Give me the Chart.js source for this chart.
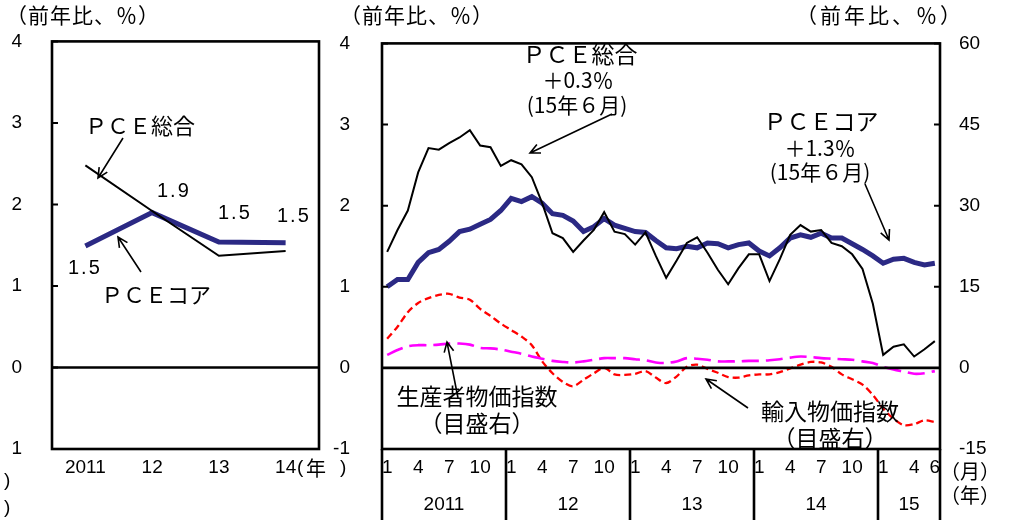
<!DOCTYPE html>
<html>
<head>
<meta charset="utf-8">
<script src="https://cdn.jsdelivr.net/npm/chart.js@4.4.0/dist/chart.umd.min.js"></script>
<style>
html, body { margin: 0; padding: 0; background: #fff; }
#wrap { position: relative; width: 1016px; height: 520px; }
#wrap canvas { position: absolute; left: 0; top: 0; }
</style>
</head>
<body>
<div id="wrap">
  <canvas id="annualChart" width="1016" height="520"></canvas>
  <canvas id="monthlyChart" width="1016" height="520"></canvas>
</div>
<script>
// annual panel (left)
const annualYears = ['2011', '12', '13', '14'];
const pceTotalAnnual = [2.48, 1.92, 1.37, 1.43];
const pceCoreAnnual = [1.49, 1.90, 1.54, 1.53];

// monthly panel (right), Jan 2011 - Jun 2015
const monthYears = ['2011', '12', '13', '14', '15'];
const monthsInYear = [12, 12, 12, 12, 6];
const shownMonths = [[1, 4, 7, 10], [1, 4, 7, 10], [1, 4, 7, 10], [1, 4, 7, 10], [1, 4, 6]];

const pceTotal = [
  1.43, 1.70, 1.94, 2.41, 2.71, 2.69, 2.77, 2.84, 2.93, 2.74, 2.72, 2.49,
  2.56, 2.51, 2.35, 2.03, 1.66, 1.60, 1.43, 1.57, 1.70, 1.92, 1.68, 1.65,
  1.52, 1.67, 1.38, 1.11, 1.32, 1.54, 1.61, 1.42, 1.21, 1.03, 1.23, 1.40,
  1.40, 1.07, 1.34, 1.64, 1.76, 1.68, 1.70, 1.54, 1.50, 1.40, 1.22, 0.79,
  0.16, 0.26, 0.29, 0.14, 0.23, 0.33
];
const pceCore = [
  1.00, 1.09, 1.09, 1.30, 1.42, 1.46, 1.56, 1.68, 1.71, 1.77, 1.83, 1.94,
  2.09, 2.05, 2.11, 2.03, 1.90, 1.88, 1.81, 1.68, 1.74, 1.84, 1.76, 1.72,
  1.68, 1.67, 1.57, 1.48, 1.47, 1.50, 1.48, 1.54, 1.53, 1.48, 1.52, 1.54,
  1.44, 1.38, 1.48, 1.60, 1.64, 1.61, 1.66, 1.60, 1.60, 1.53, 1.46, 1.38,
  1.29, 1.34, 1.35, 1.30, 1.27, 1.29
];
// right axis
const importPrice = [
  5.4, 7.6, 10.3, 12.0, 12.9, 13.5, 13.7, 13.0, 12.6, 10.9, 9.6, 8.2,
  7.0, 5.8, 4.2, 1.2, -1.0, -2.6, -3.4, -2.2, -1.0, 0.0, -1.2, -1.3,
  -1.1, -0.6, -1.8, -2.8, -1.6, 0.2, 0.6, -0.2, -0.9, -1.7, -1.8, -1.4,
  -1.2, -1.2, -0.8, -0.1, 0.6, 1.1, 1.0, 0.2, -1.2, -2.1, -3.1, -5.0,
  -7.5, -9.4, -10.6, -10.4, -9.7, -10.0
];
const producerPrice = [
  2.4, 3.3, 4.0, 4.2, 4.2, 4.3, 4.5, 4.5, 4.3, 3.7, 3.6, 3.4,
  3.0, 2.6, 2.1, 1.7, 1.3, 1.1, 1.0, 1.2, 1.5, 1.8, 1.8, 1.8,
  1.6, 1.4, 1.0, 0.9, 1.2, 1.8, 1.7, 1.5, 1.2, 1.2, 1.2, 1.3,
  1.3, 1.4, 1.6, 1.9, 2.1, 2.0, 1.8, 1.7, 1.6, 1.5, 1.2, 0.9,
  0.2, -0.3, -0.7, -1.1, -1.0, -0.6
];

const NUM = '"Liberation Sans", Arial, "Noto Sans CJK JP", sans-serif';
const JP = '"Noto Sans CJK JP", "Liberation Sans", sans-serif';
const NAVY = '#2b2984';

// build month categories + tick texts
const monthCats = [];
const monthTickText = [];
const yearStart = [];
monthYears.forEach((y, yi) => {
  yearStart.push(monthCats.length);
  for (let m = 1; m <= monthsInYear[yi]; m++) {
    monthCats.push(y + '/' + m);
    monthTickText.push(shownMonths[yi].includes(m) ? String(m) : '');
  }
});

function arrow(ctx, x1, y1, x2, y2) {
  const a = Math.atan2(y2 - y1, x2 - x1);
  const h = 11;
  ctx.save();
  ctx.strokeStyle = '#000';
  ctx.lineWidth = 1.6;
  ctx.beginPath();
  ctx.moveTo(x1, y1);
  ctx.lineTo(x2, y2);
  ctx.moveTo(x2 - h * Math.cos(a - 0.45), y2 - h * Math.sin(a - 0.45));
  ctx.lineTo(x2, y2);
  ctx.lineTo(x2 - h * Math.cos(a + 0.45), y2 - h * Math.sin(a + 0.45));
  ctx.stroke();
  ctx.restore();
}

function text(ctx, str, x, y, font, align, spacing) {
  ctx.save();
  ctx.fillStyle = '#000';
  ctx.font = font;
  ctx.textAlign = align || 'center';
  ctx.textBaseline = 'middle';
  if (spacing) ctx.letterSpacing = spacing;
  ctx.fillText(str, x, y);
  ctx.restore();
}

function frame(ctx, area, yScale) {
  ctx.save();
  ctx.strokeStyle = '#000';
  ctx.lineWidth = 2.6;
  ctx.strokeRect(area.left, area.top, area.right - area.left, area.bottom - area.top);
  // zero line
  const y0 = yScale.getPixelForValue(0);
  ctx.beginPath();
  ctx.moveTo(area.left, y0);
  ctx.lineTo(area.right, y0);
  ctx.stroke();
  ctx.restore();
}

function innerTicks(ctx, scale, x, dir) {
  ctx.save();
  ctx.strokeStyle = '#000';
  ctx.lineWidth = 2;
  ctx.beginPath();
  scale.ticks.forEach(t => {
    const y = scale.getPixelForValue(t.value);
    ctx.moveTo(x, y);
    ctx.lineTo(x + dir * 6, y);
  });
  ctx.stroke();
  ctx.restore();
}

const annualDecor = {
  id: 'annualDecor',
  afterDatasetsDraw(chart) {
    const ctx = chart.ctx;
    const area = chart.chartArea;
    frame(ctx, area, chart.scales.y);
    innerTicks(ctx, chart.scales.y, area.left, 1);

    text(ctx, '（前年比、％）', 6, 15, '21px ' + JP, 'left', '1px');
    text(ctx, '(', 297, 468, '19px ' + NUM, 'left');
    text(ctx, '年', 316, 468, '20px ' + JP, 'center');
    text(ctx, ')', 340, 468, '19px ' + NUM, 'left');
    text(ctx, ')', 4, 481, '19px ' + NUM, 'left');
    text(ctx, ')', 4, 508, '19px ' + NUM, 'left');

    text(ctx, 'ＰＣＥ総合', 140, 126, '22px ' + JP);
    arrow(ctx, 123, 138, 98, 178);
    text(ctx, '1.9', 157, 191, '20px ' + NUM, 'left', '2px');
    text(ctx, '1.5', 218, 213, '20px ' + NUM, 'left', '2px');
    text(ctx, '1.5', 277, 216, '20px ' + NUM, 'left', '2px');
    text(ctx, '1.5', 68, 268, '20px ' + NUM, 'left', '2px');
    text(ctx, 'ＰＣＥコア', 156, 295, '22px ' + JP);
    arrow(ctx, 141, 272, 118, 237);
  }
};

const monthlyDecor = {
  id: 'monthlyDecor',
  afterDatasetsDraw(chart) {
    const ctx = chart.ctx;
    const area = chart.chartArea;
    const x = chart.scales.x;
    frame(ctx, area, chart.scales.y);
    innerTicks(ctx, chart.scales.y, area.left, 1);
    innerTicks(ctx, chart.scales.y2, area.right, -1);

    // year separators and year labels below the plot
    ctx.save();
    ctx.strokeStyle = '#000';
    ctx.lineWidth = 2.6;
    ctx.beginPath();
    yearStart.concat([monthCats.length]).forEach(i => {
      const px = x.getPixelForValue(i - 0.5);
      ctx.moveTo(px, area.bottom);
      ctx.lineTo(px, 520);
    });
    ctx.stroke();
    ctx.restore();
    monthYears.forEach((y, yi) => {
      const a = x.getPixelForValue(yearStart[yi] - 0.5);
      const b = x.getPixelForValue(yearStart[yi] + monthsInYear[yi] - 0.5);
      text(ctx, y, (a + b) / 2, 505, '19px ' + NUM);
    });
    text(ctx, '（月）', 940, 471, '20px ' + JP, 'left');
    text(ctx, '（年）', 940, 495, '20px ' + JP, 'left');

    text(ctx, '（前年比、％）', 340, 15, '21px ' + JP, 'left', '1px');
    text(ctx, '（前年比、％）', 796, 15, '21px ' + JP, 'left', '3px');

    text(ctx, 'ＰＣＥ総合', 580, 54, '23px ' + JP);
    text(ctx, '＋0.3％', 578, 80, '21px ' + JP);
    text(ctx, '(15年６月)', 577, 105, '21px ' + JP);
    arrow(ctx, 612, 114, 530, 153);

    text(ctx, 'ＰＣＥコア', 821, 121, '23px ' + JP);
    text(ctx, '＋1.3％', 820, 148, '21px ' + JP);
    text(ctx, '(15年６月)', 820, 172, '21px ' + JP);
    arrow(ctx, 865, 184, 889, 240);

    text(ctx, '生産者物価指数', 477, 396, '23px ' + JP);
    text(ctx, '（目盛右）', 477, 423, '23px ' + JP);
    arrow(ctx, 458, 398, 447, 342);

    text(ctx, '輸入物価指数', 830, 411, '23px ' + JP);
    text(ctx, '（目盛右）', 830, 438, '23px ' + JP);
    arrow(ctx, 748, 408, 706, 379);
  }
};

const tickFont = { family: NUM, size: 19 };

new Chart(document.getElementById('annualChart'), {
  type: 'line',
  data: {
    labels: annualYears,
    datasets: [
      { label: 'PCE総合', data: pceTotalAnnual, borderColor: '#000', borderWidth: 2, pointRadius: 0, tension: 0 },
      { label: 'PCEコア', data: pceCoreAnnual, borderColor: NAVY, borderWidth: 5, pointRadius: 0, tension: 0 }
    ]
  },
  options: {
    responsive: false,
    animation: false,
    layout: { padding: { left: 0, top: 38, right: 697, bottom: 0 } },
    plugins: { legend: { display: false }, tooltip: { enabled: false } },
    scales: {
      x: {
        offset: true,
        grid: { display: false, drawTicks: false },
        border: { display: false },
        ticks: { color: '#000', font: tickFont, padding: 7, maxRotation: 0 },
        afterFit(s) { s.height = 71; }
      },
      y: {
        min: -1, max: 4,
        grid: { display: false, drawTicks: false },
        border: { display: false },
        ticks: { stepSize: 1, color: '#000', font: tickFont, padding: 30,
                 callback: v => (v === -1 ? '1' : String(v)) },
        afterFit(s) { s.width = 52; }
      }
    }
  },
  plugins: [annualDecor]
});

new Chart(document.getElementById('monthlyChart'), {
  type: 'line',
  data: {
    labels: monthCats,
    datasets: [
      { label: 'PCE総合', data: pceTotal, yAxisID: 'y', borderColor: '#000', borderWidth: 2, pointRadius: 0, tension: 0 },
      { label: 'PCEコア', data: pceCore, yAxisID: 'y', borderColor: NAVY, borderWidth: 5, pointRadius: 0, tension: 0 },
      { label: '生産者物価指数', data: producerPrice, yAxisID: 'y2', borderColor: '#ff00ff', borderWidth: 2.6,
        borderDash: [17, 7], pointRadius: 0, tension: 0.3 },
      { label: '輸入物価指数', data: importPrice, yAxisID: 'y2', borderColor: '#ff0000', borderWidth: 2.3,
        borderDash: [7, 4], pointRadius: 0, tension: 0.3 }
    ]
  },
  options: {
    responsive: false,
    animation: false,
    layout: { padding: { left: 330, top: 38, right: 0, bottom: 0 } },
    plugins: { legend: { display: false }, tooltip: { enabled: false } },
    scales: {
      x: {
        offset: true,
        grid: { display: false, drawTicks: false },
        border: { display: false },
        ticks: { color: '#000', font: tickFont, padding: 7, autoSkip: false, maxRotation: 0,
                 callback: (v, i) => monthTickText[i] },
        afterFit(s) { s.height = 71; }
      },
      y: {
        position: 'left',
        min: -1, max: 4,
        grid: { display: false, drawTicks: false },
        border: { display: false },
        ticks: { stepSize: 1, color: '#000', font: tickFont, padding: 32 },
        afterFit(s) { s.width = 52; }
      },
      y2: {
        position: 'right',
        min: -15, max: 60,
        grid: { display: false, drawTicks: false },
        border: { display: false },
        ticks: { stepSize: 15, color: '#000', font: tickFont, padding: 19 },
        afterFit(s) { s.width = 76; }
      }
    }
  },
  plugins: [monthlyDecor]
});
</script>
</body>
</html>
